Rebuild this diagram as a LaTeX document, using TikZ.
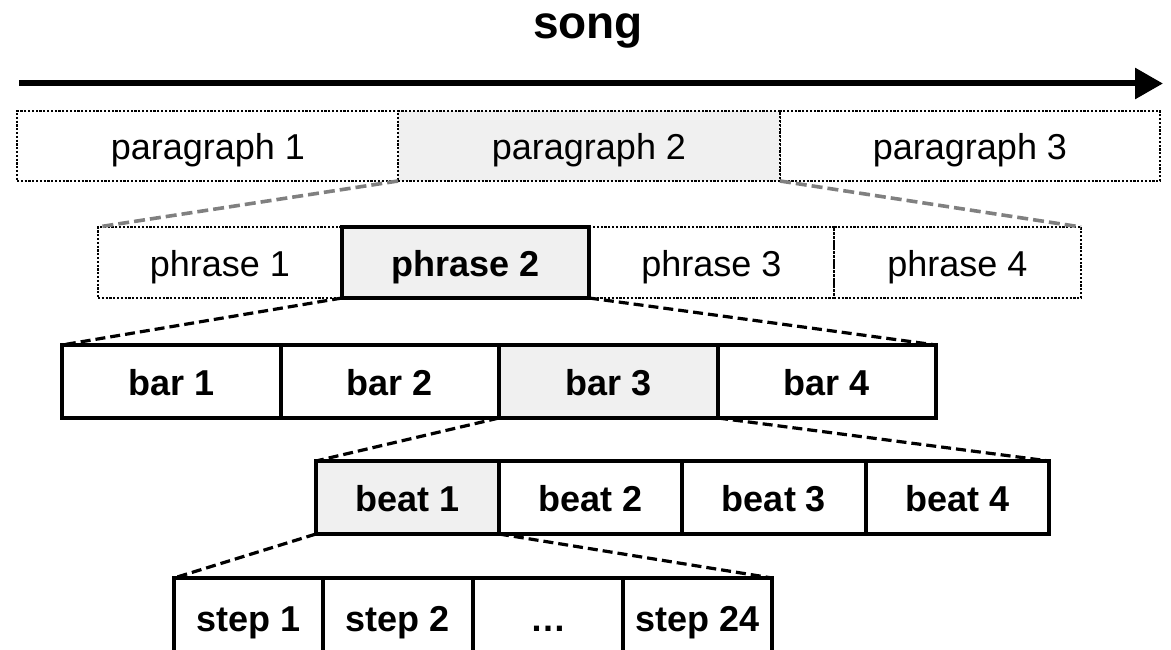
\documentclass[tikz,border=0pt]{standalone}
\usepackage{fontspec}
\setmainfont{Liberation Sans}
\usetikzlibrary{arrows.meta}
\definecolor{hl}{HTML}{F0F0F0}
\definecolor{connGray}{HTML}{808080}
\tikzset{
  cell/.style={rectangle, inner sep=0pt, outer sep=0pt, anchor=center,
    text height=28pt, text depth=0pt,
    font=\fontsize{36}{42}\selectfont},
  dotcell/.style={cell, draw=black, line width=2.2pt, dash pattern=on 2.2pt off 1.6pt},
  solidcell/.style={cell, draw=black, line width=3.6pt, font=\fontsize{36}{42}\selectfont\bfseries},
  hlfill/.style={fill=hl},
  grayconn/.style={draw=connGray, line width=3.6pt, dash pattern=on 11pt off 5pt},
  blackconn/.style={draw=black, line width=3.2pt, dash pattern=on 10pt off 5pt},
}
\begin{document}
\begin{tikzpicture}[x=1pt,y=-1pt]
\useasboundingbox (0,0) rectangle (1171,650);
% title
\node[anchor=base, font=\fontsize{46}{52}\selectfont\bfseries, inner sep=0pt] (title) at (588,38.5) {song};
% arrow
\coordinate (as) at (19,83.5);
\coordinate (ae) at (1163,83.5);
\draw[line width=6pt, -{Triangle[length=28pt,width=30pt]}] (as) -- (ae);

% paragraph row: y 111-181
\node[dotcell, minimum width=382pt, minimum height=70pt] (pa1) at (208,146) {paragraph 1};
\node[dotcell, minimum width=380pt, minimum height=70pt] (pa3) at (970,146) {paragraph 3};
\node[dotcell, hlfill, minimum width=382pt, minimum height=70pt] (pa2) at (589,146) {paragraph 2};

% phrase row: y 227-298
\node[dotcell, minimum width=244pt, minimum height=71pt] (ph1) at (220,262.5) {phrase 1};
\node[dotcell, minimum width=245pt, minimum height=71pt] (ph3) at (711.5,262.5) {phrase 3};
\node[dotcell, minimum width=247pt, minimum height=71pt] (ph4) at (957.5,262.5) {phrase 4};
\node[solidcell, hlfill, line width=4pt, minimum width=247pt, minimum height=71pt] (ph2) at (465.5,262.5) {phrase 2};

% bar row: y 345-418
\node[solidcell, minimum width=219pt, minimum height=73pt] (b1) at (171.5,381.5) {bar 1};
\node[solidcell, minimum width=218pt, minimum height=73pt] (b2) at (390,381.5) {bar 2};
\node[solidcell, minimum width=218pt, minimum height=73pt] (b4) at (827,381.5) {bar 4};
\node[solidcell, hlfill, minimum width=219pt, minimum height=73pt] (b3) at (608.5,381.5) {bar 3};

% beat row: y 461-534
\node[solidcell, minimum width=183pt, minimum height=73pt] (bt2) at (590.5,497.5) {beat 2};
\node[solidcell, minimum width=184pt, minimum height=73pt] (bt3) at (774,497.5) {beat 3};
\node[solidcell, minimum width=183pt, minimum height=73pt] (bt4) at (957.5,497.5) {beat 4};
\node[solidcell, hlfill, minimum width=183pt, minimum height=73pt] (bt1) at (407.5,497.5) {beat 1};

% step row: y 578-656 (bottom clipped)
\node[solidcell, minimum width=149pt, minimum height=78pt] (s1) at (248.5,617) {step 1};
\node[solidcell, minimum width=150pt, minimum height=78pt] (s2) at (398,617) {step 2};
\node[solidcell, minimum width=150pt, minimum height=78pt] (s3) at (548,617) {…};
\node[solidcell, minimum width=149pt, minimum height=78pt] (s24) at (697.5,617) {step 24};

% connectors
\draw[grayconn] (pa2.south west) -- (ph1.north west);
\draw[grayconn] (pa2.south east) -- (ph4.north east);
\draw[blackconn] (ph2.south west) -- (b1.north west);
\draw[blackconn] (ph2.south east) -- (b4.north east);
\draw[blackconn] (b3.south west) -- (bt1.north west);
\draw[blackconn] (b3.south east) -- (bt4.north east);
\draw[blackconn] (bt1.south west) -- (s1.north west);
\draw[blackconn] (bt1.south east) -- (s24.north east);
\end{tikzpicture}
\end{document}
